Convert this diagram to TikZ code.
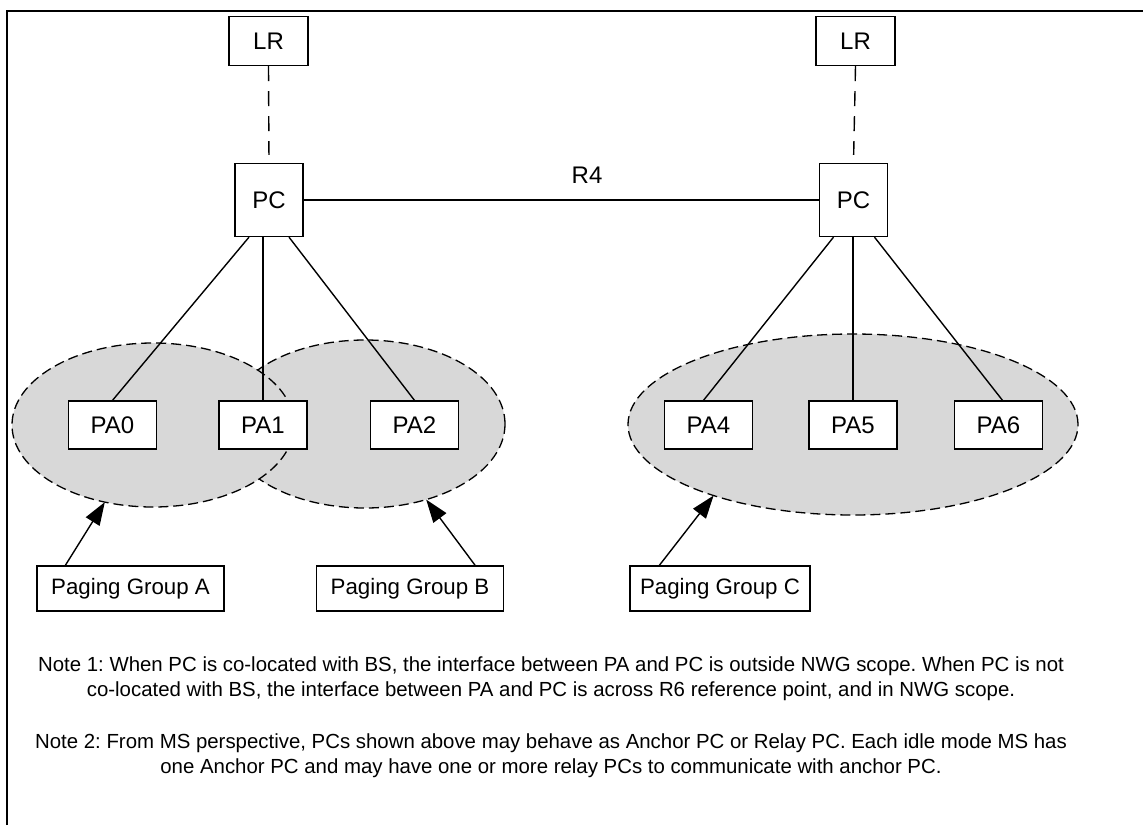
\documentclass[tikz,border=0pt]{standalone}
\usepackage{fontspec}
\setmainfont{Liberation Sans}
\usetikzlibrary{arrows.meta,shapes.geometric}
\definecolor{groupgray}{RGB}{216,216,216}
\frenchspacing

\begin{document}
\begin{tikzpicture}[
  x=1pt, y=-1pt,
  % ---- Node styles ----
  box/.style={draw, line width=1.3pt, fill=white, inner sep=0pt,
              font=\fontsize{24}{28}\selectfont},
  lrbox/.style={box, minimum width=79pt, minimum height=49pt},
  pcbox/.style={box, minimum width=68pt, minimum height=73pt},
  pabox/.style={box, minimum width=88pt, minimum height=48pt},
  pgbox/.style={box, minimum width=187pt, minimum height=45pt,
                font=\fontsize{22.3}{26}\selectfont},
  group/.style={ellipse, draw, fill=groupgray, line width=1.3pt,
                dash pattern=on 10pt off 5pt, inner sep=0pt, outer sep=0pt},
  note/.style={align=center, font=\fontsize{20.4}{25}\selectfont},
  % ---- Lines ----
  line/.style={line width=1.4pt},
  dline/.style={line, dash pattern=on 15pt off 10pt, shorten >=8pt},
  pointer/.style={line, -{Triangle[length=23pt, width=16pt]}}
]

% ===== Canvas (x, y in px, y downwards) =====
\useasboundingbox (0,0) rectangle (1143,825);
\draw[line width=1.5pt] (7,825) |- (1143,11);

% ===== Paging groups (B under A) =====
\node[group, minimum width=280pt, minimum height=168pt] (grpB) at (365,424) {};
\node[group, minimum width=282pt, minimum height=164pt] (grpA) at (153,425) {};
\node[group, minimum width=450pt, minimum height=181pt] (grpC) at (853,424.5) {};

% ===== Location registers =====
\node[lrbox] (lrL) at (268.5,41) {LR};
\node[lrbox] (lrR) at (855.5,41) {LR};

% ===== Paging controllers =====
\node[pcbox] (pcL) at (269,200)   {PC};
\node[pcbox] (pcR) at (853.5,200) {PC};

% ===== Paging agents =====
\node[pabox] (pa0) at (112.5,425) {PA0};
\node[pabox] (pa1) at (263,425)   {PA1};
\node[pabox] (pa2) at (414.5,425) {PA2};
\node[pabox] (pa4) at (708.5,425) {PA4};
\node[pabox] (pa5) at (853,425)   {PA5};
\node[pabox] (pa6) at (998.5,425) {PA6};

% ===== Group labels =====
\node[pgbox] (pgA) at (130.5,588.5) {Paging Group A};
\node[pgbox] (pgB) at (410,588.5)   {Paging Group B};
\node[pgbox, minimum width=180pt] (pgC) at (720,588.5) {Paging Group C};

% ===== Connections =====
\draw[dline] (lrL.south) -- (pcL.north);
\draw[dline] (lrR.south) -- (pcR.north);

\draw[line] (pcL.east) -- node[pos=0.55, above=16pt, inner sep=0pt,
  font=\fontsize{24}{28}\selectfont] {R4} (pcR.west);

\draw[line] ([xshift=-20pt]pcL.south) -- (pa0.north);
\draw[line] (pa1.north) -- (pa1.north |- pcL.south);
\draw[line] ([xshift=20pt]pcL.south) -- (pa2.north);

\draw[line] ([xshift=-20pt]pcR.south) -- ([xshift=-5pt]pa4.north);
\draw[line] (pa5.north) -- (pa5.north |- pcR.south);
\draw[line] ([xshift=21pt]pcR.south) -- ([xshift=4pt]pa6.north);

\draw[pointer] ([xshift=29pt]pgA.north west) -- (grpA.238);
\draw[pointer] ([xshift=-29pt]pgB.north east) -- (grpB.309);
\draw[pointer] ([xshift=30pt]pgC.north west) -- (grpC.207);

% ===== Notes =====
\node[note] (note1) at (551,678.5) {Note 1: When PC is co-located with BS, the interface between PA and PC is outside NWG scope. When PC is not\\
  co-located with BS, the interface between PA and PC is across R6 reference point, and in NWG scope.};
\node[note] (note2) at (551,755.5) {Note 2: From MS perspective, PCs shown above may behave as Anchor PC or Relay PC. Each idle mode MS has\\
  one Anchor PC and may have one or more relay PCs to communicate with anchor PC.};

\end{tikzpicture}
\end{document}
